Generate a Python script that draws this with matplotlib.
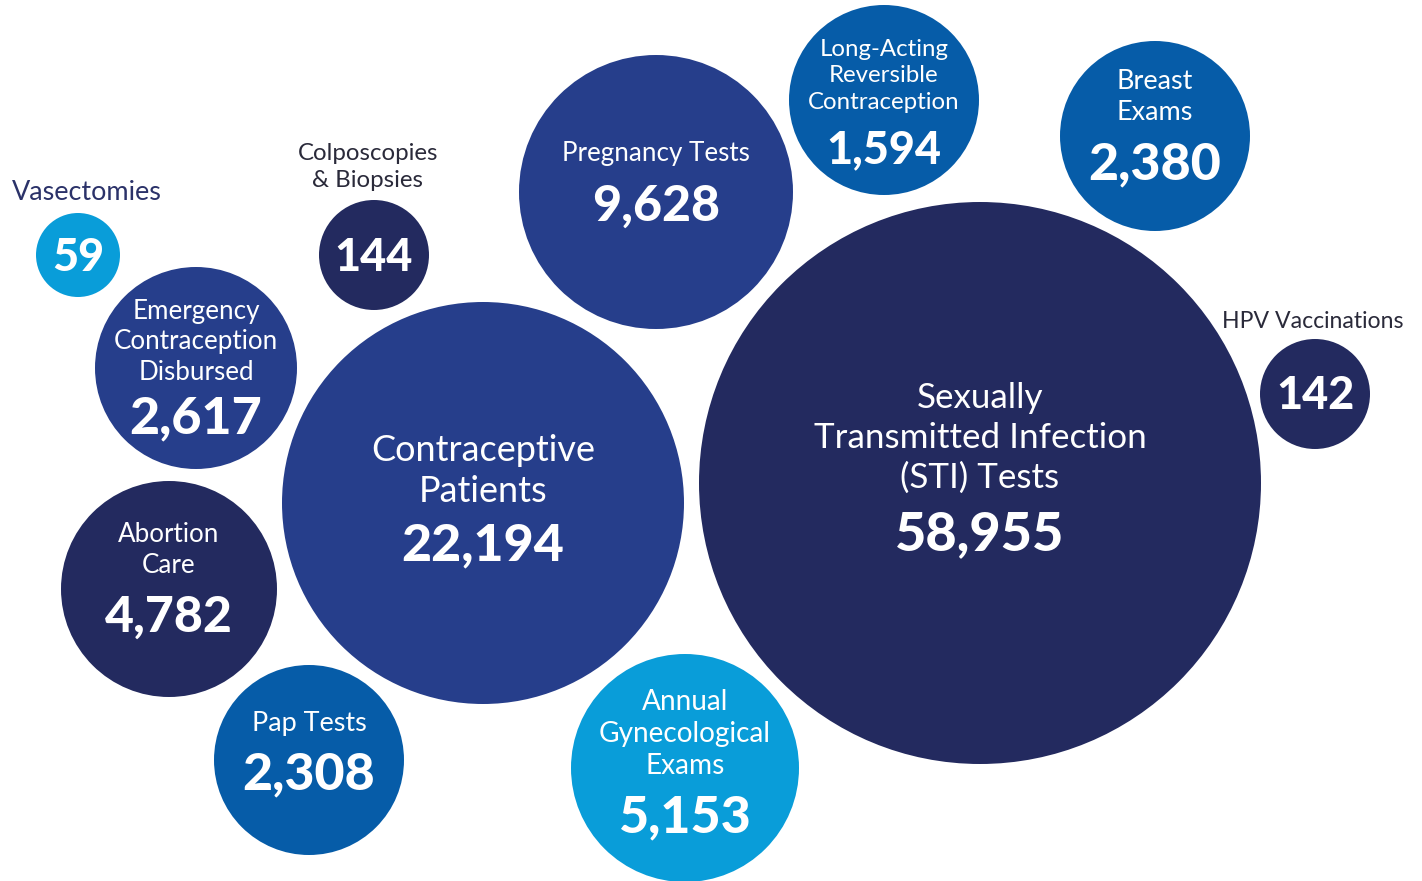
import matplotlib.pyplot as plt
from matplotlib.patches import Circle

# service counts
categories = ["Vasectomies", "Colposcopies\n& Biopsies", "Emergency\nContraception\nDisbursed",
              "Abortion\nCare", "Pap Tests", "Contraceptive\nPatients", "Pregnancy Tests",
              "Long-Acting\nReversible\nContraception", "Breast\nExams",
              "Sexually\nTransmitted Infection\n(STI) Tests", "HPV Vaccinations",
              "Annual\nGynecological\nExams"]
values = [59, 144, 2617, 4782, 2308, 22194, 9628, 1594, 2380, 58955, 142, 5153]

# bubble layout (pixels, y down)
cx = [78, 374, 196, 169, 309, 483, 656, 884, 1155, 980, 1315, 685]
cy = [255, 255, 368, 589, 760, 503, 192, 100, 136, 483, 394, 768]
rad = [42, 55, 101, 108, 95, 201, 137, 95, 95, 281, 55, 114]
label_x = [87, 368, 196, 169, 309, 483, 656, 884, 1155, 980, 1313, 685]
label_y = [193, 167, 342, 550, 724, 471, 153, 76, 97, 438, 321, 734]
value_y = [258, 258, 419, 617, 775, 546, 206, 150, 165, 535, 396, 818]
label_px = [27, 24, 26, 26, 27, 36, 26, 24, 27, 35, 23, 28]
value_px = [45, 45, 52, 50, 52, 52, 50, 45, 52, 54, 45, 52]
outside = [True, True, False, False, False, False, False, False, False, False, True, False]

LIGHT = "#099dd9"
NAVY = "#232a5f"
MID = "#263e8b"
BLUE = "#065ca8"
colors = [LIGHT, NAVY, MID, NAVY, BLUE, MID, MID, BLUE, BLUE, NAVY, NAVY, LIGHT]
outside_color = ["#2b3269", "#2a2a3a", None, None, None, None, None, None, None, None, "#2a2a3a", None]

W, H = 1422, 881
fig = plt.figure(figsize=(W / 100, H / 100), dpi=100)
ax = fig.add_axes([0, 0, 1, 1])
ax.set_xlim(0, W)
ax.set_ylim(H, 0)
ax.set_aspect("equal")
ax.axis("off")

for i in range(len(values)):
    ax.add_patch(Circle((cx[i], cy[i]), rad[i], color=colors[i], lw=0))
    tc = outside_color[i] if outside[i] else "white"
    ax.text(label_x[i], label_y[i], categories[i], ha="center", va="center",
            fontsize=label_px[i] * 0.72, color=tc, family="Lato", weight="normal",
            linespacing=1.3)
    ax.text(cx[i], value_y[i], f"{values[i]:,}", ha="center", va="center",
            fontsize=value_px[i] * 0.72, color="white", family="Lato", weight="black")

fig.savefig("out.png", dpi=100)
